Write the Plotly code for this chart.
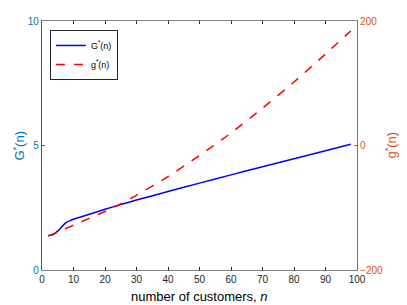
import plotly.graph_objects as go

n_G = [2, 3, 4, 5, 6, 7, 8, 9, 10, 12, 15, 20, 25, 30, 40, 50, 60, 70, 80, 90, 98]
G_vals = [1.38, 1.40, 1.46, 1.56, 1.70, 1.83, 1.93, 1.99, 2.04, 2.12, 2.24, 2.44, 2.63,
          2.81, 3.15, 3.49, 3.82, 4.15, 4.47, 4.79, 5.05]
n_g = [2, 5, 10, 15, 20, 25, 30, 40, 50, 60, 70, 80, 90, 98]
g_vals = [-145, -139, -128, -117, -106, -94, -80, -50, -16, 20, 60, 102, 147, 184]

x_ticks = list(range(0, 101, 10))
y1_ticks = [0, 5, 10]
y2_ticks = [-200, 0, 200]

LEFT_C = "#0072BD"
RIGHT_C = "#D95319"
GRAY = "#262626"
FONT = "Liberation Sans"

fig = go.Figure()
fig.add_trace(go.Scatter(x=n_G, y=G_vals, mode="lines", name="G<sup>*</sup>(n)",
                         line=dict(color="#0000FF", width=1.5, shape="spline", smoothing=0.6),
                         yaxis="y"))
fig.add_trace(go.Scatter(x=n_g, y=g_vals, mode="lines", name="g<sup>*</sup>(n)",
                         line=dict(color="#FF0000", width=1.5, dash="dash", shape="spline", smoothing=0.6),
                         yaxis="y2"))

# page body has an 8px default margin, so the figure is shrunk by 8px
fig.update_layout(
    width=399, height=297,
    margin=dict(l=34, r=50, t=13, b=35, autoexpand=False),
    plot_bgcolor="white", paper_bgcolor="white",
    font=dict(family=FONT, size=10, color=GRAY),
    showlegend=True,
    legend=dict(x=0.025, y=0.964, xanchor="left", yanchor="top",
                bordercolor=GRAY, borderwidth=1, bgcolor="white",
                font=dict(size=9, family=FONT, color="#000000"),
                tracegroupgap=0, itemwidth=30),
    xaxis=dict(range=[0, 100], tickvals=x_ticks, ticks="inside", ticklen=3,
               tickcolor=GRAY, showline=True, linecolor="#808080", linewidth=1,
               mirror="ticks", showgrid=False, zeroline=False, automargin=False,
               tickfont=dict(size=10, color=GRAY)),
    yaxis=dict(range=[0, 10], tickvals=y1_ticks, ticks="inside", ticklen=3,
               tickcolor=LEFT_C, showline=True, linecolor=LEFT_C, linewidth=1.2,
               showgrid=False, zeroline=False, automargin=False,
               tickfont=dict(size=10, color=LEFT_C)),
    yaxis2=dict(range=[-200, 200], tickvals=y2_ticks, ticks="inside", ticklen=3,
                tickcolor=RIGHT_C, showline=True, linecolor=RIGHT_C, linewidth=1.2,
                showgrid=False, zeroline=False, overlaying="y", side="right", automargin=False,
                tickfont=dict(size=10, color=RIGHT_C)),
    annotations=[
        dict(text="number of customers, <i>n</i>", xref="paper", yref="paper",
             x=0.5, y=-0.108, xanchor="center", yanchor="middle", showarrow=False,
             font=dict(size=13, color="#000000", family=FONT)),
        dict(text="G<sup>*</sup>(n)", xref="paper", yref="paper",
             x=-0.076, y=0.5, xanchor="center", yanchor="middle", showarrow=False,
             textangle=-90, font=dict(size=13, color=LEFT_C, family=FONT)),
        dict(text="g<sup>*</sup>(n)", xref="paper", yref="paper",
             x=1.105, y=0.5, xanchor="center", yanchor="middle", showarrow=False,
             textangle=-90, font=dict(size=13, color=RIGHT_C, family=FONT)),
    ],
)

fig.write_html("out.html")
